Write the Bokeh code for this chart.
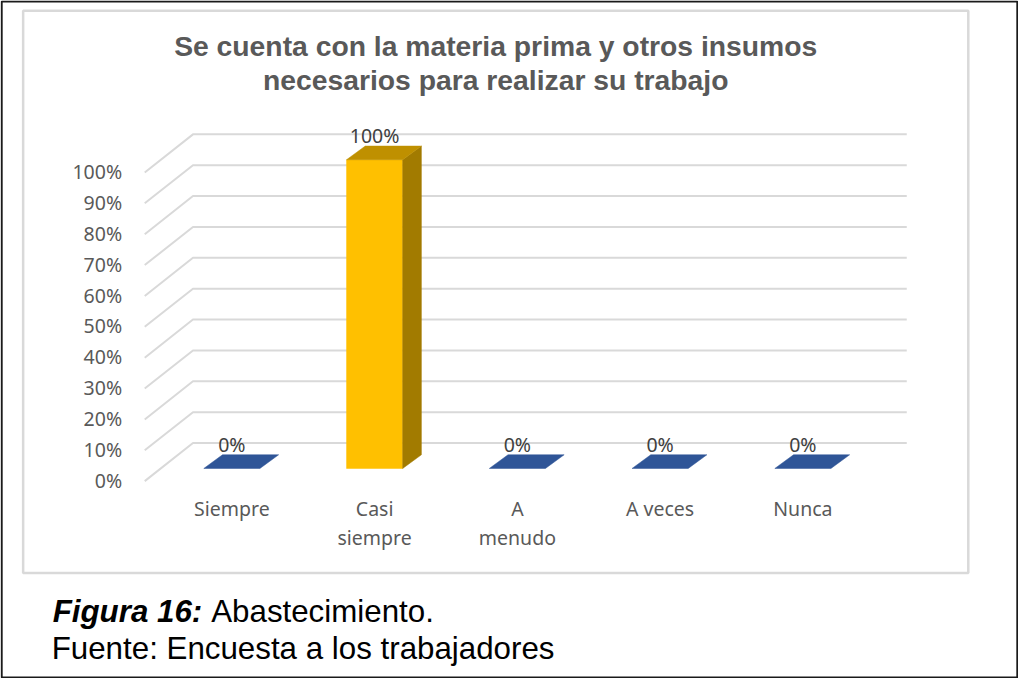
from bokeh.plotting import figure
from bokeh.models import Range1d
from bokeh.embed import file_html
from bokeh.resources import INLINE
from bokeh.core.properties import value

# ---------------- data ----------------
title_lines = ["Se cuenta con la materia prima y otros insumos",
               "necesarios para realizar su trabajo"]
categories = ["Siempre", "Casi siempre", "A menudo", "A veces", "Nunca"]
category_lines = [["Siempre"], ["Casi", "siempre"], ["A", "menudo"], ["A veces"], ["Nunca"]]
percent_values = [0, 100, 0, 0, 0]
data_labels = ["0%", "100%", "0%", "0%", "0%"]
y_ticks = [0, 10, 20, 30, 40, 50, 60, 70, 80, 90, 100]
y_tick_labels = ["0%", "10%", "20%", "30%", "40%", "50%", "60%", "70%", "80%", "90%", "100%"]
caption_bold = "Figura 16:"
caption_rest = "Abastecimiento."
source_note = "Fuente: Encuesta a los trabajadores"

# ---------------- styles ----------------
front_colors = ["#4472C4", "#FFC000", "#4472C4", "#4472C4", "#4472C4"]
top_colors = ["#2F5597", "#BF9000", "#2F5597", "#2F5597", "#2F5597"]
side_colors = ["#264A80", "#A27B00", "#264A80", "#264A80", "#264A80"]
GRID = "#D9D9D9"
TXT = "#595959"

W, H = 1018, 678
REF_W, REF_H = 1034, 694
SX, SY = W / REF_W, H / REF_H
CAT_PX = 145.0    # reference px per category
PCT_PX = 3.16     # reference px per percent
CAT0_X = 235.0    # reference x of category 0 (front face centre)
ZERO_Y = 479.0    # reference y of value 0 on bar front plane


def ix(ref_x):
    return (ref_x - CAT0_X) / CAT_PX


def iy(ref_y):
    return (ZERO_Y - ref_y) / PCT_PX


def fs(px):
    return "%.1fpx" % (px * SY)


HALF = 28.5 / CAT_PX                    # half bar width
BDX, BDY = 19 / CAT_PX, 14 / PCT_PX     # bar depth
WDX, WDY = 33 / CAT_PX, 26 / PCT_PX     # back wall offset from bar plane
FDX, FDY = -16 / CAT_PX, -13 / PCT_PX   # front edge offset from bar plane

p = figure(width=W, height=H, output_backend="svg", toolbar_location=None,
           x_range=Range1d(ix(0), ix(REF_W)),
           y_range=Range1d(iy(REF_H), iy(0)),
           x_axis_type=None, y_axis_type=None, min_border=0)
p.xgrid.visible = False
p.ygrid.visible = False
p.background_fill_color = "white"
p.border_fill_color = "white"
p.outline_line_color = None

n = len(categories)
left, right = -0.5, n - 0.5

# outer frame
p.quad(left=[ix(1.2)], right=[ix(1032.8)], top=[iy(1.0)], bottom=[iy(693.0)],
       fill_color=None, line_color="#1a1a1a", line_width=2)

# chart area box
p.quad(left=[ix(23)], right=[ix(983)], top=[iy(10.5)], bottom=[iy(586)],
       fill_color=None, line_color=GRID, line_width=2.5)

# gridlines: side wall + back wall
gx, gy = [], []
for t in y_ticks:
    gx.append([left + FDX, left + WDX, right + WDX])
    gy.append([t + FDY, t + WDY, t + WDY])
p.multi_line(xs=gx, ys=gy, line_color=GRID, line_width=2)

# y tick labels
p.text(x=[left + FDX - 23 / CAT_PX] * len(y_ticks), y=[t + FDY + 0.3 for t in y_ticks],
       text=y_tick_labels, text_font=value("Noto Sans"), text_font_size=fs(20),
       text_color=TXT, text_align="right", text_baseline="middle")

# bars (3D)
for i, v in enumerate(percent_values):
    xl, xr = i - HALF, i + HALF
    if v > 0:
        p.patches(xs=[[xl, xr, xr, xl]], ys=[[0, 0, v, v]],
                  fill_color=front_colors[i], line_color=front_colors[i], line_width=0.5)
        p.patches(xs=[[xr, xr + BDX, xr + BDX, xr]], ys=[[0, BDY, v + BDY, v]],
                  fill_color=side_colors[i], line_color=side_colors[i], line_width=0.5)
    p.patches(xs=[[xl, xr, xr + BDX, xl + BDX]], ys=[[v, v, v + BDY, v + BDY]],
              fill_color=top_colors[i], line_color=top_colors[i], line_width=0.5)

# data labels
p.text(x=list(range(n)), y=[v + 7.8 for v in percent_values], text=data_labels,
       text_font=value("Noto Sans"), text_font_size=fs(20), text_color="#404040",
       text_align="center", text_baseline="middle")

# category labels
cx, cy, ct = [], [], []
for i, lines in enumerate(category_lines):
    for j, s in enumerate(lines):
        cx.append(i)
        cy.append(iy(520 + j * 30))
        ct.append(s)
p.text(x=cx, y=cy, text=ct, text_font=value("Noto Sans"), text_font_size=fs(20),
       text_color=TXT, text_align="center", text_baseline="middle")

# title
p.text(x=[ix(503)] * 2, y=[iy(46.5), iy(81.5)], text=title_lines,
       text_font=value("Liberation Sans"), text_font_size=fs(29), text_font_style="bold",
       text_color=TXT, text_align="center", text_baseline="middle")

# caption
p.text(x=[ix(53)], y=[iy(625.5)], text=[caption_bold], text_font=value("Liberation Sans"),
       text_font_size=fs(32), text_font_style="bold italic", text_color="black",
       text_align="left", text_baseline="middle")
p.text(x=[ix(214)], y=[iy(625.5)], text=[caption_rest], text_font=value("Liberation Sans"),
       text_font_size=fs(32), text_color="black", text_align="left", text_baseline="middle")
p.text(x=[ix(52)], y=[iy(663.5)], text=[source_note], text_font=value("Liberation Sans"),
       text_font_size=fs(32), text_color="black", text_align="left", text_baseline="middle")

open("out.html", "w").write(file_html(p, INLINE))
